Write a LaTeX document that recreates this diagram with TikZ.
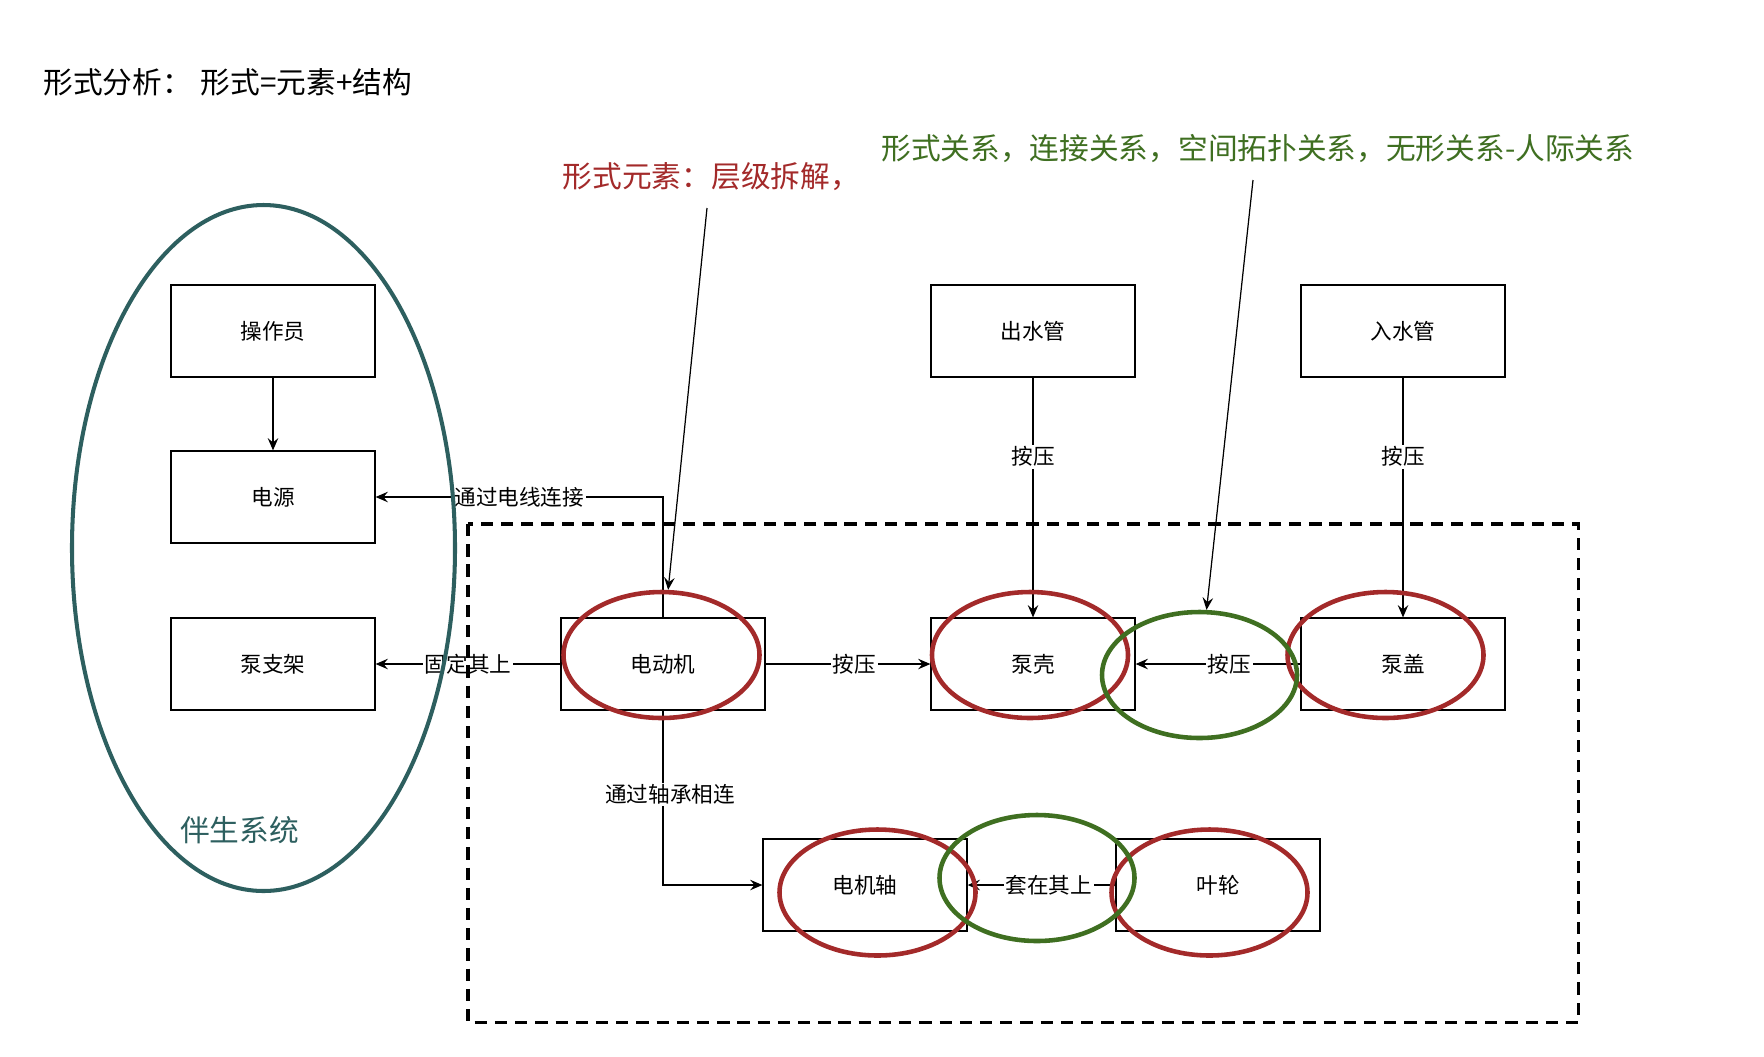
\documentclass[tikz,border=0pt]{standalone}
\usepackage{fontspec}
\setmainfont{Noto Sans CJK SC}
\usetikzlibrary{shapes,arrows.meta,positioning,calc}
\definecolor{markred}{HTML}{A32A2A}
\definecolor{markgreen}{HTML}{3F6F21}
\definecolor{systeal}{HTML}{2D5F5F}

\begin{document}
\begin{tikzpicture}[
    part/.style={draw, line width=0.7pt, minimum width=4.08cm, minimum height=1.84cm, font=\fontsize{12.3}{14}\selectfont},
    link/.style={draw, line width=0.7pt, -{Stealth[length=7pt,width=6pt,inset=2.5pt]}},
    note/.style={draw, line width=0.7pt, -{Stealth[length=7pt,width=6pt,inset=2.5pt]}},
    tag/.style={fill=white, inner sep=1pt, font=\fontsize{12.3}{14}\selectfont},
    ringred/.style={draw=markred, line width=2.6pt, ellipse, inner sep=0pt, minimum width=3.92cm, minimum height=2.52cm},
    ringgreen/.style={draw=markgreen, line width=2.6pt, ellipse, inner sep=0pt, minimum width=3.9cm, minimum height=2.52cm},
    bigtext/.style={anchor=west, inner sep=0pt, font=\fontsize{16.9}{19}\selectfont}]

\useasboundingbox (0,0) rectangle (35.28,-21.12);

% titles
\node[bigtext] (title) at (0.86,-1.64) {形式分析：\hspace{0.3em}形式=元素+结构};
\node[bigtext, text=markred] (elemtext) at (11.25,-3.53) {形式元素：层级拆解，};
\node[bigtext, text=markgreen] (reltext) at (17.62,-2.97) {形式关系，连接关系，空间拓扑关系，无形关系-人际关系};

% parts
\node[part] (operator) at (5.46,-6.62) {操作员};
\node[part] (power) at (5.46,-9.94) {电源};
\node[part] (bracket) at (5.46,-13.28) {泵支架};
\node[part] (motor) at (13.26,-13.28) {电动机};
\node[part] (outpipe) at (20.66,-6.62) {出水管};
\node[part] (casing) at (20.66,-13.28) {泵壳};
\node[part] (inpipe) at (28.06,-6.62) {入水管};
\node[part] (cover) at (28.06,-13.28) {泵盖};
\node[part] (shaft) at (17.30,-17.70) {电机轴};
\node[part] (impeller) at (24.36,-17.70) {叶轮};

% connections
\draw[link] (operator) -- (power);
\draw[link] (motor.north) |- node[tag, pos=0.75] {通过电线连接} (power.east);
\draw[link] (motor) -- node[tag, pos=0.5] {固定其上} (bracket);
\draw[link] (motor) -- node[tag, pos=0.54] {按压} (casing);
\draw[link] (outpipe) -- node[tag, pos=0.33] {按压} (casing);
\draw[link] (inpipe) -- node[tag, pos=0.33] {按压} (cover);
\draw[link] (cover) -- node[tag, pos=0.43] {按压} (casing);
\draw[link] (motor.south) |- node[tag, pos=0.24, xshift=4pt] {通过轴承相连} (shaft.west);
\draw[link] (impeller) -- node[tag, pos=0.45] {套在其上} (shaft);

% system boundary
\draw[line width=2pt, dash pattern=on 7pt off 4.5pt] (9.36,-10.48) rectangle (31.57,-20.45);
\draw[systeal, line width=2.3pt] (5.27,-10.96) ellipse (3.83 and 6.86);
\node[text=systeal, font=\fontsize{16.9}{19}\selectfont] (systext) at (4.79,-16.6) {伴生系统};

% marks
\node[ringred] (emotor) at (13.23,-13.10) {};
\node[ringred] (ecasing) at (20.60,-13.10) {};
\node[ringred] (ecover) at (27.71,-13.10) {};
\node[ringred] (eshaft) at (17.55,-17.85) {};
\node[ringred] (eimpeller) at (24.19,-17.85) {};
\node[ringgreen] (epress) at (23.99,-13.50) {};
\node[ringgreen] (esleeve) at (20.74,-17.56) {};

\coordinate (elemtip) at (14.14,-4.16);
\coordinate (reltip) at (25.06,-3.60);
\draw[note] (elemtip) -- (emotor);
\draw[note] (reltip) -- (epress);
\end{tikzpicture}
\end{document}
